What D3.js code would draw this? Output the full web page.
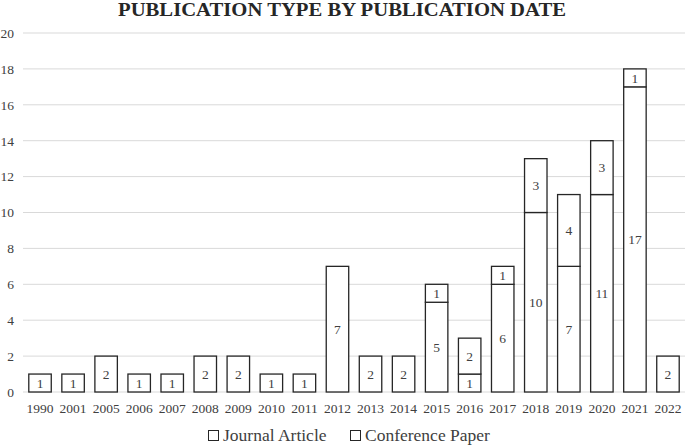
<!DOCTYPE html>
<html lang="en">
<head>
<meta charset="UTF-8">
<script src="https://cdn.jsdelivr.net/npm/d3@7"></script>
<style>
  body { margin: 0; background: #fff; }
  svg { display: block; font-family: "Liberation Serif", "Times New Roman", serif; }
</style>
</head>
<body>
<div id="chart"></div>
<script>
    // years on the x axis
    const years = ["1990","2001","2005","2006","2007","2008","2009","2010","2011","2012",
                   "2013","2014","2015","2016","2017","2018","2019","2020","2021","2022"]
    // counts per series
    const journal    = [1,1,2,1,1,2,2,1,1,7,2,2,5,1,6,10,7,11,17,2]
    const conference = [0,0,0,0,0,0,0,0,0,0,0,0,1,2,1,3,4,3,1,0]
    const seriesNames = ["Journal Article", "Conference Paper"]
    const yTicks = [0,2,4,6,8,10,12,14,16,18,20]

    const W = 685, H = 445
    const svg = d3.select("#chart").append("svg")
        .attr("width", W).attr("height", H)

    const x = d3.scaleBand()
        .domain(years)
        .range([23.5, 684.5])
        .paddingInner(0.32)
        .paddingOuter(0.16)

    const y = d3.scaleLinear()
        .domain([0, 20])
        .range([392, 33])

    // title
    svg.append("text")
        .attr("x", 118).attr("y", 15.5)
        .attr("font-weight", "bold")
        .attr("font-size", 19)
        .attr("textLength", 448)
        .attr("lengthAdjust", "spacingAndGlyphs")
        .attr("fill", "#262626")
        .text("PUBLICATION TYPE BY PUBLICATION DATE")

    // gridlines
    svg.append("g").selectAll("line")
        .data(yTicks)
        .join("line")
        .attr("x1", 23).attr("x2", 685)
        .attr("y1", d => y(d)).attr("y2", d => y(d))
        .attr("stroke", "#d9d9d9").attr("stroke-width", 1)

    // y axis labels
    const yAxis = d3.axisLeft(y).tickValues(yTicks).tickSize(0).tickPadding(0)
    const gy = svg.append("g").attr("transform", "translate(14,0)").call(yAxis)
    gy.select(".domain").remove()
    gy.selectAll("text").attr("font-size", 13.5).attr("fill", "#404040")
        .attr("font-family", "Liberation Serif")

    // x axis labels
    const xAxis = d3.axisBottom(x).tickSize(0).tickPadding(0)
    const gx = svg.append("g").attr("transform", "translate(0,403)").call(xAxis)
    gx.select(".domain").remove()
    gx.selectAll("text").attr("font-size", 13.5).attr("fill", "#404040")
        .attr("font-family", "Liberation Serif")

    // stacked data
    const rows = years.map((yr, i) => ({ year: yr, "Journal Article": journal[i], "Conference Paper": conference[i] }))
    const stacked = d3.stack().keys(seriesNames)(rows)

    const layers = svg.append("g").selectAll("g")
        .data(stacked)
        .join("g")

    layers.selectAll("rect")
        .data(d => d.filter(s => s[1] - s[0] > 0))
        .join("rect")
        .attr("x", d => x(d.data.year))
        .attr("width", x.bandwidth())
        .attr("y", d => y(d[1]))
        .attr("height", d => y(d[0]) - y(d[1]))
        .attr("fill", "#fff")
        .attr("stroke", "#262626")
        .attr("stroke-width", 1.3)

    layers.selectAll("text")
        .data(d => d.filter(s => s[1] - s[0] > 0))
        .join("text")
        .attr("x", d => x(d.data.year) + x.bandwidth() / 2)
        .attr("y", d => (y(d[0]) + y(d[1])) / 2)
        .attr("dy", "0.35em")
        .attr("text-anchor", "middle")
        .attr("font-size", 13.5)
        .attr("fill", "#404040")
        .text(d => d[1] - d[0])

    // legend
    const legendX = [208, 350]
    const legend = svg.append("g").selectAll("g")
        .data(seriesNames)
        .join("g")
        .attr("transform", (d, i) => `translate(${legendX[i]},441)`)
    legend.append("rect")
        .attr("x", 0.5).attr("y", -10.5)
        .attr("width", 10).attr("height", 10)
        .attr("fill", "#fff").attr("stroke", "#262626").attr("stroke-width", 1)
    legend.append("text")
        .attr("x", 15).attr("y", 0)
        .attr("font-size", 17.5)
        .attr("fill", "#404040")
        .text(d => d)
</script>
</body>
</html>
